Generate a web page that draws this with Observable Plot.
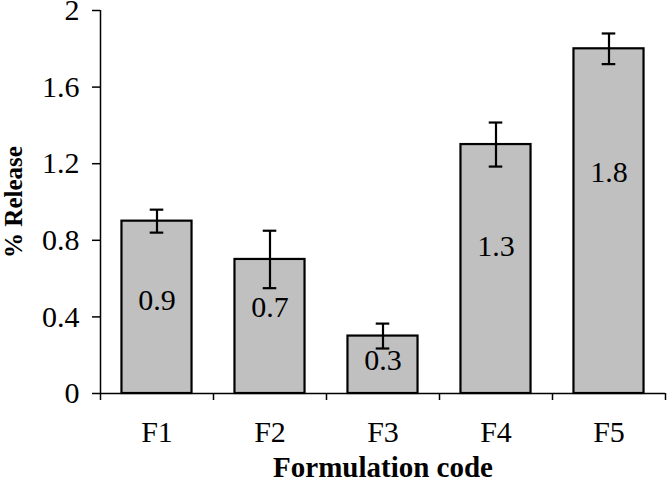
<!DOCTYPE html>
<html>
<head>
<meta charset="utf-8">
<script src="https://cdn.jsdelivr.net/npm/d3@7"></script>
<script src="https://cdn.jsdelivr.net/npm/@observablehq/plot@0.6"></script>
<style>
  html, body { margin: 0; padding: 0; background: #fff; }
</style>
</head>
<body>
<div id="chart"></div>
<script>
const categories = ["F1", "F2", "F3", "F4", "F5"];
const values = [0.9, 0.7, 0.3, 1.3, 1.8];
const errors = [0.06, 0.15, 0.065, 0.115, 0.08];
const labelAt = [0.486, 0.449, 0.172, 0.768, 1.154];
const yTicks = [0, 0.4, 0.8, 1.2, 1.6, 2];

const data = categories.map((c, i) => ({
  c, i, v: values[i], e: errors[i], l: labelAt[i]
}));

const chart = Plot.plot({
  width: 667,
  height: 481,
  marginLeft: 100,
  marginRight: 2,
  marginTop: 10,
  marginBottom: 88,
  style: { fontFamily: "'Liberation Serif', 'Times New Roman', serif", fontSize: "30px", color: "#000", background: "#fff" },
  x: { domain: [0, categories.length] },
  y: { domain: [0, 2] },
  marks: [
    Plot.rectY(data, { x1: d => d.i + 0.19, x2: d => d.i + 0.81, y1: 0, y2: "v", fill: "#c0c0c0", stroke: "#000", strokeWidth: 2.2 }),
    Plot.ruleX(data, { x: d => d.i + 0.5, y1: d => d.v - d.e, y2: d => d.v + d.e, stroke: "#000", strokeWidth: 2.2 }),
    Plot.ruleY(data, { y: d => d.v + d.e, x1: d => d.i + 0.44, x2: d => d.i + 0.56, stroke: "#000", strokeWidth: 2.2 }),
    Plot.ruleY(data, { y: d => d.v - d.e, x1: d => d.i + 0.44, x2: d => d.i + 0.56, stroke: "#000", strokeWidth: 2.2 }),
    Plot.text(data, { x: d => d.i + 0.5, y: "l", text: d => String(d.v), fill: "#000", fontSize: 30, lineAnchor: "middle" }),
    Plot.axisY({ ticks: yTicks, tickSize: 8, tickPadding: 13, fontSize: 30, tickFormat: d3.format(""), label: "% Release", labelAnchor: "center", labelArrow: "none", labelOffset: 96, strokeWidth: 1.5 }),
    Plot.axisX({ ticks: d3.range(0, categories.length + 1), tickSize: 7, tickFormat: () => "", label: null, strokeWidth: 1.5 }),
    Plot.axisX({ ticks: d3.range(categories.length).map(i => i + 0.5), tickSize: 0, tickPadding: 27, fontSize: 30, tickFormat: d => categories[Math.floor(d)], label: "Formulation code", labelAnchor: "center", labelArrow: "none", labelOffset: 83 }),
    Plot.ruleX([0], { stroke: "#000", strokeWidth: 1.5 }),
    Plot.ruleY([0], { stroke: "#000", strokeWidth: 1.5 })
  ]
});

chart.querySelectorAll("[aria-label='y-axis label']").forEach(g => { g.setAttribute("font-weight", "bold"); g.setAttribute("font-size", "25"); });
chart.querySelectorAll("[aria-label='x-axis label']").forEach(g => { g.setAttribute("font-weight", "bold"); g.setAttribute("font-size", "29"); });
document.getElementById("chart").appendChild(chart);
</script>
</body>
</html>
